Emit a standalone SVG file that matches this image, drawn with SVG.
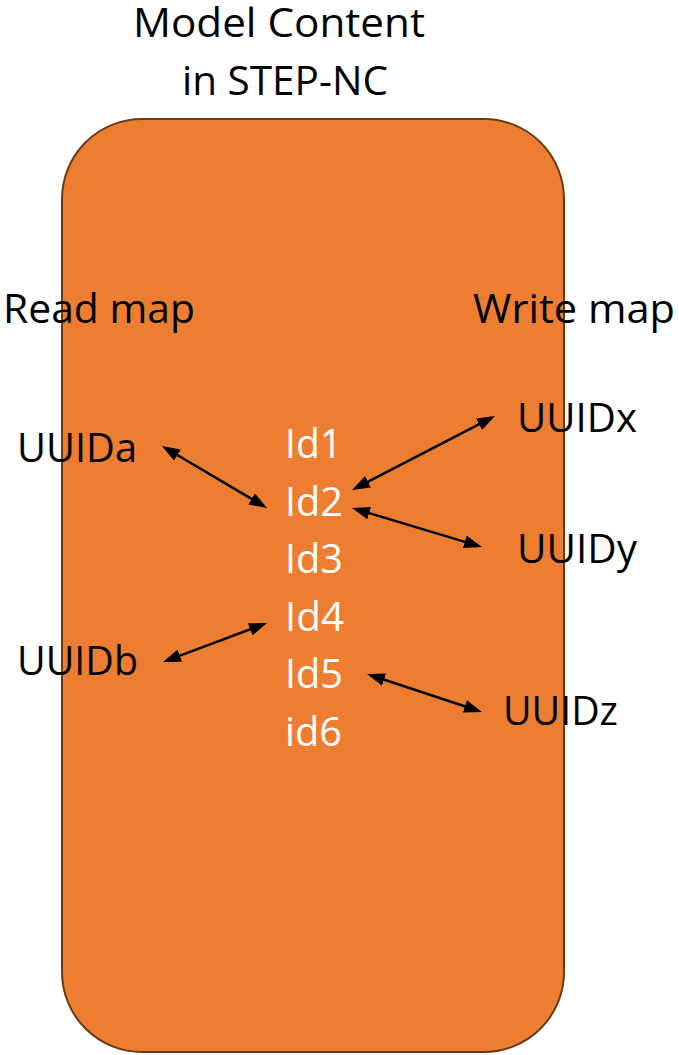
<svg xmlns="http://www.w3.org/2000/svg" width="679" height="1055" viewBox="0 0 679 1055">
  <defs>
    <style>
      .lbl { font-family: "Open Sans", "Liberation Sans", sans-serif; font-size: 41px; fill: #000000; }
      .id { font-family: "Open Sans", "Liberation Sans", sans-serif; font-size: 41px; fill: #ffffff; }
      .link { stroke: #000000; stroke-width: 2.5; fill: none; marker-start: url(#head); marker-end: url(#head); }
    </style>
    <marker id="head" viewBox="0 0 18 13" refX="14" refY="6.5" markerWidth="18" markerHeight="13" markerUnits="userSpaceOnUse" orient="auto-start-reverse">
      <path d="M0,0 L18,6.5 L0,13 z" fill="#000000"/>
    </marker>
  </defs>

  <rect width="679" height="1055" fill="#ffffff"/>

  <!-- title above the container -->
  <g id="title">
    <text class="lbl" x="133" y="37" textLength="292" lengthAdjust="spacingAndGlyphs">Model Content</text>
    <text class="lbl" x="182" y="95" textLength="206" lengthAdjust="spacingAndGlyphs">in STEP-NC</text>
  </g>

  <!-- model container -->
  <g id="model">
    <rect x="62" y="119" width="502" height="933" rx="80" ry="80" fill="#ED7D31" stroke="#6b3a16" stroke-width="2"/>
  </g>

  <g id="read-map">
    <text class="lbl" x="3" y="323" textLength="192" lengthAdjust="spacingAndGlyphs">Read map</text>
  </g>
  <g id="write-map">
    <text class="lbl" x="473" y="323" textLength="202" lengthAdjust="spacingAndGlyphs">Write map</text>
  </g>

  <!-- model ids -->
  <g id="id1"><text class="id" x="285" y="458" textLength="57" lengthAdjust="spacingAndGlyphs">Id1</text></g>
  <g id="id2"><text class="id" x="285" y="515.5" textLength="58" lengthAdjust="spacingAndGlyphs">Id2</text></g>
  <g id="id3"><text class="id" x="285" y="573" textLength="58" lengthAdjust="spacingAndGlyphs">Id3</text></g>
  <g id="id4"><text class="id" x="285" y="630.5" textLength="59" lengthAdjust="spacingAndGlyphs">Id4</text></g>
  <g id="id5"><text class="id" x="285" y="688" textLength="58" lengthAdjust="spacingAndGlyphs">Id5</text></g>
  <g id="id6"><text class="id" x="285" y="745.5" textLength="57" lengthAdjust="spacingAndGlyphs">id6</text></g>

  <!-- uuids -->
  <g id="uuida"><text class="lbl" x="17" y="462" textLength="120" lengthAdjust="spacingAndGlyphs">UUIDa</text></g>
  <g id="uuidb"><text class="lbl" x="17" y="675" textLength="121" lengthAdjust="spacingAndGlyphs">UUIDb</text></g>
  <g id="uuidx"><text class="lbl" x="517" y="432" textLength="120" lengthAdjust="spacingAndGlyphs">UUIDx</text></g>
  <g id="uuidy"><text class="lbl" x="517" y="563" textLength="120" lengthAdjust="spacingAndGlyphs">UUIDy</text></g>
  <g id="uuidz"><text class="lbl" x="503" y="725" textLength="115" lengthAdjust="spacingAndGlyphs">UUIDz</text></g>

  <!-- two-way links between uuids and ids -->
  <g id="connectors">
    <line class="link" x1="165.4" y1="448.0" x2="263.6" y2="506.0"/>
    <line class="link" x1="491.4" y1="417.8" x2="355.6" y2="488.2"/>
    <line class="link" x1="355.8" y1="509.1" x2="478.2" y2="545.9"/>
    <line class="link" x1="263.3" y1="624.4" x2="166.7" y2="660.6"/>
    <line class="link" x1="370.8" y1="675.3" x2="478.2" y2="710.7"/>
  </g>
</svg>
